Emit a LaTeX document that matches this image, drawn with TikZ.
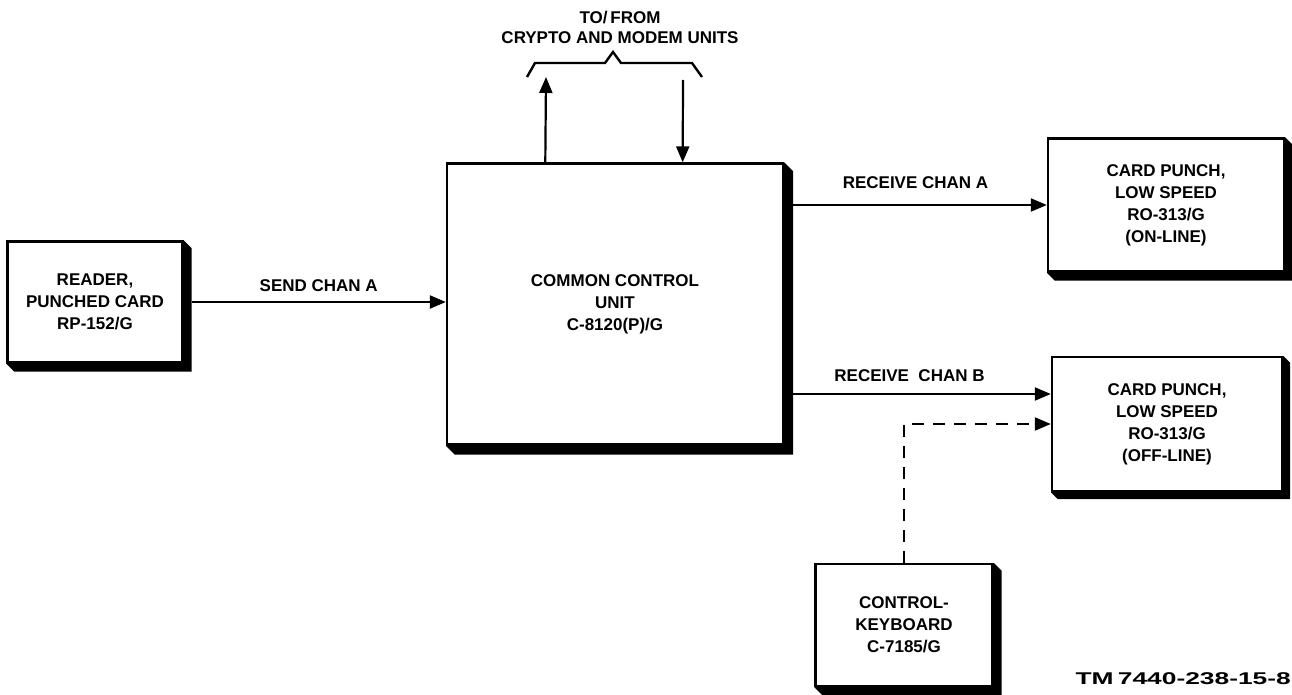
\documentclass[tikz,border=0pt]{standalone}
\usepackage{fontspec}
\setmainfont{Liberation Sans}
\usetikzlibrary{arrows.meta,calc}
\newcommand\lbl{\fontsize{17}{22}\selectfont\bfseries}
\newcommand\shadowof[2]{\fill (#1.north east) -- ++(#2,#2) -- ($(#1.south east)+(#2,#2)$) -- ($(#1.south west)+(#2,#2)$) -- (#1.south west) -- (#1.south east) -- cycle;}
\tikzset{
  box/.style={draw, line width=2.4pt, fill=white, align=center, font=\lbl, inner sep=0pt},
  conn/.style={line width=2.2pt, -{Triangle[length=16pt,width=13pt]}},
  lab/.style={font=\lbl, inner sep=0pt}
}
\begin{document}
\begin{tikzpicture}[x=1pt,y=-1pt]
\useasboundingbox (0,0) rectangle (1292,695);
% boxes
\node[box, minimum width=175pt, minimum height=121pt] (reader) at (95,302) {READER,\\PUNCHED CARD\\RP-152/G};
\shadowof{reader}{8}
\node[box, minimum width=336pt, minimum height=281pt] (ccu) at (615,304) {COMMON CONTROL\\UNIT\\C-8120(P)/G};
\shadowof{ccu}{9}
\node[box, minimum width=236pt, minimum height=133pt] (cpa) at (1166,205) {CARD PUNCH,\\LOW SPEED\\RO-313/G\\(ON-LINE)};
\shadowof{cpa}{8}
\node[box, minimum width=230pt, minimum height=134pt] (cpb) at (1167,424) {CARD PUNCH,\\LOW SPEED\\RO-313/G\\(OFF-LINE)};
\shadowof{cpb}{7}
\node[box, minimum width=177pt, minimum height=122pt] (kb) at (904,625) {CONTROL-\\KEYBOARD\\C-7185/G};
\shadowof{kb}{8}
% top labels and brace
\node[lab, align=center, font=\fontsize{17}{20}\selectfont\bfseries] (tofrom) at (620,27) {TO/\,FROM\\CRYPTO AND MODEM UNITS};
\draw[line width=2.4pt, line join=miter] (527,77) -- (535,63) -- (605,63) -- (613,52) -- (621,63) -- (692,63) -- (702,77);
\coordinate (upend) at (546,77);
\coordinate (downstart) at (683,80);
\coordinate (upstart) at ($(ccu.north west)!0.294!(ccu.north east)$);
\coordinate (downend) at ($(ccu.north west)!0.70!(ccu.north east)$);
\draw[conn] (upstart) -- (upend);
\draw[conn] (downstart) -- (downend);
% connectors
\draw[conn] ([xshift=8pt]reader.east) -- node[lab, above=9pt] {SEND CHAN A} (ccu.west |- reader.east);
\draw[conn] (ccu.east |- cpa.west) -- node[lab, above=15pt] {RECEIVE CHAN A} (cpa.west);
\coordinate (rb) at ($(cpb.north west)!0.28!(cpb.south west)$);
\draw[conn] (ccu.east |- rb) -- node[lab, above=11pt, xshift=-8pt] {RECEIVE\ \ CHAN B} (rb);
\draw[conn, dash pattern=on 12pt off 9pt] (kb.north) |- (cpb.west);
% figure id
\node[lab, anchor=base east] (tm) at (1291,684) {\scalebox{1.55}[1]{TM\,7440-238-15-8}};
\end{tikzpicture}
\end{document}
